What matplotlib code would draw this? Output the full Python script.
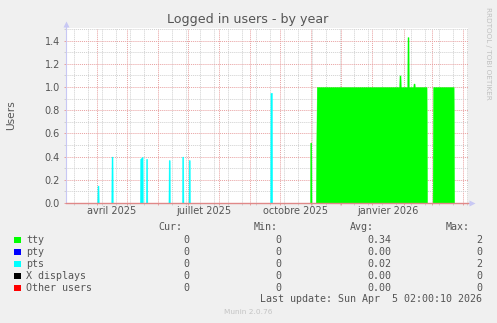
import numpy as np
import matplotlib
matplotlib.use("Agg")
import matplotlib.pyplot as plt
import matplotlib.dates as mdates
import matplotlib.ticker as mticker
import matplotlib.transforms as mtransforms
from matplotlib.patches import Rectangle
from datetime import datetime, timedelta

W, H = 497, 323

# ---------------- data ----------------
title = "Logged in users - by year"
ylabel = "Users"

# pts (cyan) time series: timestamps and values
pts_times = [
    "2025-03-01 00:00",
    "2025-04-01 12:00", "2025-04-01 18:00", "2025-04-02 18:00", "2025-04-03 00:00",
    "2025-04-15 12:00", "2025-04-15 18:00", "2025-04-16 18:00", "2025-04-17 00:00",
    "2025-05-14 00:00", "2025-05-14 06:00", "2025-05-16 18:00", "2025-05-17 00:00",
    "2025-05-20 00:00", "2025-05-20 06:00", "2025-05-21 06:00", "2025-05-21 12:00",
    "2025-06-11 12:00", "2025-06-11 18:00", "2025-06-12 18:00", "2025-06-13 00:00",
    "2025-06-25 00:00", "2025-06-25 06:00", "2025-06-26 06:00", "2025-06-26 12:00",
    "2025-07-01 12:00", "2025-07-01 18:00", "2025-07-02 18:00", "2025-07-03 00:00",
    "2025-09-21 00:00", "2025-09-21 06:00", "2025-09-22 18:00", "2025-09-23 00:00",
    "2026-04-05 00:00",
]
pts_values = [
    0,
    0, 0.15, 0.15, 0,
    0, 0.40, 0.40, 0,
    0, 0.38, 0.40, 0,
    0, 0.38, 0.38, 0,
    0, 0.37, 0.37, 0,
    0, 0.40, 0.40, 0,
    0, 0.37, 0.37, 0,
    0, 0.95, 0.95, 0,
    0,
]

# tty (green) time series
tty_times = [
    "2025-03-01 00:00",
    "2025-10-30 18:00", "2025-10-31 00:00", "2025-11-01 00:00", "2025-11-01 06:00",
    "2025-11-05 12:00", "2025-11-06 12:00",
    "2026-01-27 18:00", "2026-01-28 00:00", "2026-01-29 00:00", "2026-01-29 06:00",
    "2026-02-04 18:00", "2026-02-05 00:00", "2026-02-06 00:00", "2026-02-06 06:00",
    "2026-02-10 18:00", "2026-02-11 00:00", "2026-02-12 00:00", "2026-02-12 06:00",
    "2026-02-24 00:00", "2026-02-24 12:00",
    "2026-03-02 00:00", "2026-03-02 12:00", "2026-03-23 00:00", "2026-03-23 12:00",
    "2026-04-05 00:00",
]
tty_values = [
    0,
    0, 0.52, 0.52, 0,
    0, 1.0,
    1.0, 1.10, 1.10, 1.0,
    1.0, 1.43, 1.43, 1.0,
    1.0, 1.03, 1.03, 1.0,
    1.0, 0,
    0, 1.0, 1.0, 0,
    0,
]

series_names = ["tty", "pty", "pts", "X displays", "Other users"]
series_colors = ["#00FF00", "#0000FF", "#00FFFF", "#000000", "#FF0000"]
cur_vals = ["0", "0", "0", "0", "0"]
min_vals = ["0", "0", "0", "0", "0"]
avg_vals = ["0.34", "0.00", "0.02", "0.00", "0.00"]
max_vals = ["2", "0", "2", "0", "0"]

x_tick_labels = ["avril 2025", "juillet 2025", "octobre 2025", "janvier 2026"]
x_label_months = ["2025-04-01", "2025-07-01", "2025-10-01", "2026-01-01"]
y_ticks = [0.0, 0.2, 0.4, 0.6, 0.8, 1.0, 1.2, 1.4]

last_update = "Last update: Sun Apr  5 02:00:10 2026"
footer = "Munin 2.0.76"
side_text = "RRDTOOL / TOBI OETIKER"

# ---------------- figure ----------------
def parse(ts):
    return datetime.strptime(ts, "%Y-%m-%d %H:%M")

fig = plt.figure(figsize=(W / 100, H / 100), dpi=100, facecolor="#F0F0F0")
L, R, T, B = 66, 468, 28, 203
ax = fig.add_axes([L / W, 1 - B / H, (R - L) / W, (B - T) / H])
ax.set_facecolor("white")

xmin = datetime(2025, 3, 1, 8)
xmax = datetime(2026, 4, 6, 8)
ax.set_xlim(mdates.date2num(xmin), mdates.date2num(xmax))
ax.set_ylim(0, 1.509)

mono = "DejaVu Sans Mono"
txtc = "#555555"

# grid
major_c = "#E8A0A0"
minor_c = "#D0D0D0"
ax.xaxis.set_major_locator(mdates.MonthLocator())
ax.xaxis.set_minor_locator(mticker.FixedLocator(
    mdates.date2num([datetime(2025, 7, 13) + timedelta(days=14 * k) for k in range(-12, 20)])))
ax.xaxis.set_major_formatter(mticker.NullFormatter())
ax.set_yticks(y_ticks)
ax.yaxis.set_minor_locator(mticker.MultipleLocator(0.1))
ax.set_yticklabels([f"{v:.1f}" for v in y_ticks])
ax.grid(which="minor", color=minor_c, linestyle=(0, (1, 1)), linewidth=0.7)
ax.grid(which="major", color=major_c, linestyle=(0, (1, 1)), linewidth=0.7)
ax.set_axisbelow(True)

ax.tick_params(axis="both", which="major", length=1.5, width=0.7, color=major_c,
               labelsize=7, labelcolor=txtc, pad=2.9)
ax.tick_params(axis="both", which="minor", length=1.5, width=0.7, color=minor_c)

# data areas
tt = mdates.date2num([parse(t) for t in tty_times])
ax.fill_between(tt, tty_values, color=series_colors[0], lw=0.3, edgecolor=series_colors[0], zorder=3)
pt = mdates.date2num([parse(t) for t in pts_times])
ax.fill_between(pt, pts_values, color=series_colors[2], lw=0.3, edgecolor=series_colors[2], zorder=3)

# spines
for s in ["top", "right"]:
    ax.spines[s].set_visible(False)
ax.spines["left"].set_color("#C8C8F4")
ax.spines["left"].set_linewidth(0.8)
ax.spines["bottom"].set_color("#E08888")
ax.spines["bottom"].set_linewidth(1.0)
ax.spines["bottom"].set_zorder(10)
# arrows
ax.plot([0, 0], [1.0, 1.02], transform=ax.transAxes, color="#C8C8F4", lw=0.8, clip_on=False)
ax.plot([1.0, 1.01], [0, 0], transform=ax.transAxes, color="#C8C8F4", lw=0.8, clip_on=False)
ax.plot([0], [1.0 + 4 / 175], marker="^", markersize=4, color="#C8C8F4",
        transform=ax.transAxes, clip_on=False, mec="none")
ax.plot([1.0 + 4 / 402], [0], marker=">", markersize=4, color="#C8C8F4",
        transform=ax.transAxes, clip_on=False, mec="none")

# x tick labels centred mid-month
trans = mtransforms.blended_transform_factory(ax.transData, fig.transFigure)
for lab, m in zip(x_tick_labels, x_label_months):
    d0 = datetime.strptime(m, "%Y-%m-%d")
    d1 = (d0.replace(day=28) + timedelta(days=4)).replace(day=1)
    mid = mdates.date2num(d0) + (mdates.date2num(d1) - mdates.date2num(d0)) / 2
    ax.text(mid, 1 - 211.5 / H, lab, transform=trans, ha="center", va="center",
            fontsize=7, color=txtc)

# title, labels
fig.text(248 / W, 1 - 19 / H, title, ha="center", va="center", fontsize=9.1, color=txtc)
fig.text(10.7 / W, 1 - 115 / H, ylabel, ha="center", va="center", rotation=90,
         fontsize=7.7, color=txtc)
fig.text(488 / W, 1 - 53 / H, side_text, ha="center", va="center", rotation=270,
         fontsize=5.2, color="#C0C0C0")

# legend
fs = 7.2
hy = 227.5
for hx, h in zip([182, 278, 374, 470], ["Cur:", "Min:", "Avg:", "Max:"]):
    fig.text(hx / W, 1 - hy / H, h, ha="right", va="center", family=mono, fontsize=fs, color=txtc)
row_y = [240, 252, 264, 276, 288]
for i, name in enumerate(series_names):
    y = row_y[i]
    fig.add_artist(Rectangle((14 / W, 1 - (y + 3.3) / H), 6.5 / W, 6.5 / H,
                             transform=fig.transFigure, facecolor=series_colors[i],
                             edgecolor="none"))
    fig.text(26.5 / W, 1 - y / H, name, ha="left", va="center", family=mono, fontsize=fs, color=txtc)
    for vx, vals in zip([189.5, 281.5, 391, 482.5], [cur_vals, min_vals, avg_vals, max_vals]):
        fig.text(vx / W, 1 - y / H, vals[i], ha="right", va="center", family=mono,
                 fontsize=fs, color=txtc)
fig.text(482.5 / W, 1 - 299.5 / H, last_update, ha="right", va="center", family=mono,
         fontsize=fs, color=txtc)
fig.text(248 / W, 1 - 311.7 / H, footer, ha="center", va="center", fontsize=5.3, color="#C4C4C4")

fig.savefig("out.png", dpi=100, facecolor=fig.get_facecolor())
